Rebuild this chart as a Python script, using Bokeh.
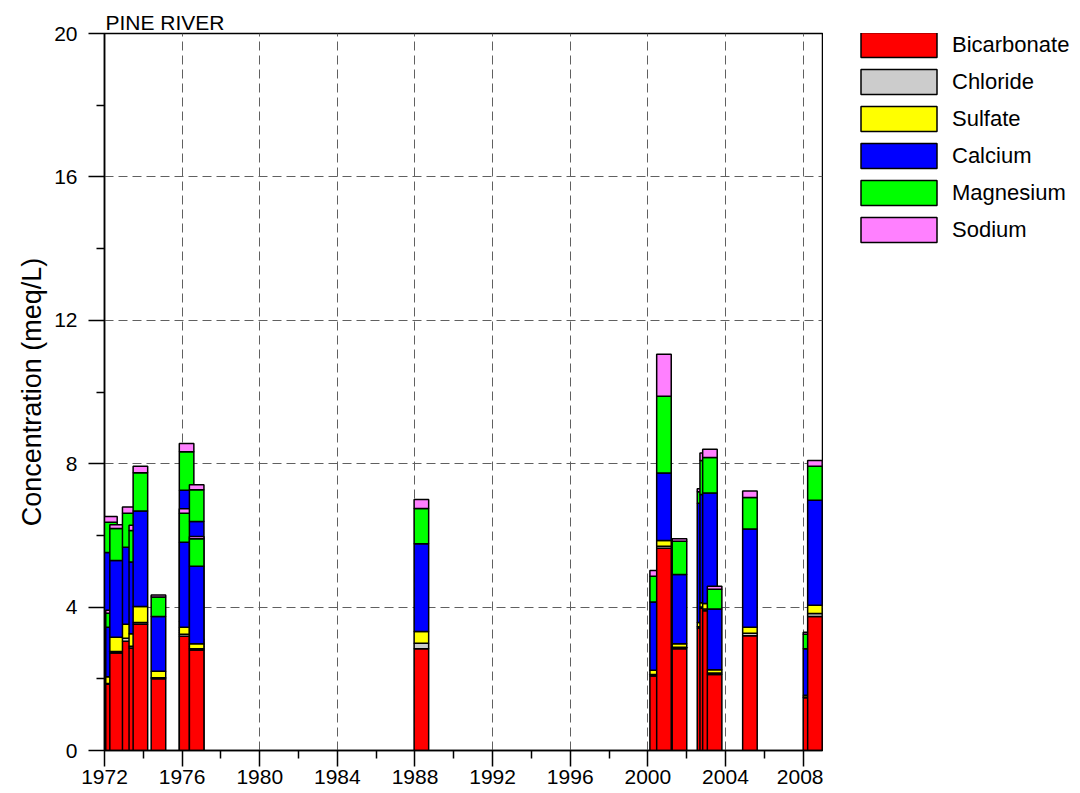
from bokeh.plotting import figure
from bokeh.models import ColumnDataSource, FixedTicker, Range1d, Legend, LegendItem
from bokeh.layouts import row
from bokeh.embed import file_html
from bokeh.resources import INLINE

# ---- data (meq/L), one entry per sample, in drawing order ----
sample_date = [1972.28, 1972.44, 1972.65, 1973.30, 1973.64, 1973.85, 1974.78,
               1976.23, 1976.23, 1976.75, 1976.75, 1988.33,
               2000.48, 2000.83, 2001.63, 2002.92, 2003.06, 2003.20, 2003.44,
               2005.26, 2008.38, 2008.61]
bicarbonate = [2.88, 1.85, 2.72, 3.05, 2.86, 3.52, 2.00, 3.30, 3.19, 2.90, 2.80, 2.84,
               2.08, 5.64, 2.84, 3.42, 3.97, 3.90, 2.12, 3.20, 1.47, 3.74]
chloride = [0.05, 0.02, 0.04, 0.08, 0.05, 0.05, 0.03, 0.05, 0.05, 0.05, 0.04, 0.15,
            0.04, 0.06, 0.04, 0.03, 0.03, 0.05, 0.04, 0.07, 0.02, 0.08]
sulfate = [0.37, 0.19, 0.40, 0.39, 0.35, 0.45, 0.18, 0.25, 0.20, 0.15, 0.14, 0.33,
           0.12, 0.16, 0.10, 0.12, 0.12, 0.15, 0.09, 0.17, 0.05, 0.23]
calcium = [2.22, 1.38, 2.14, 2.15, 2.00, 2.66, 1.53, 3.66, 2.37, 3.29, 2.16, 2.45,
           1.90, 1.88, 1.93, 3.33, 3.02, 3.08, 1.70, 2.74, 1.30, 2.93]
magnesium = [0.85, 0.39, 0.89, 0.95, 0.88, 1.07, 0.54, 1.07, 0.81, 0.88, 0.77, 0.98,
             0.72, 2.14, 0.93, 0.32, 0.95, 0.99, 0.55, 0.88, 0.40, 0.95]
sodium = [0.16, 0.08, 0.11, 0.17, 0.14, 0.18, 0.06, 0.23, 0.12, 0.14, 0.06, 0.25,
          0.16, 1.17, 0.07, 0.08, 0.21, 0.23, 0.08, 0.18, 0.06, 0.16]

components = ["Bicarbonate", "Chloride", "Sulfate", "Calcium", "Magnesium", "Sodium"]
colors = ["#FF0000", "#CCCCCC", "#FFFF00", "#0000FF", "#00FF00", "#FF80FF"]
series = [bicarbonate, chloride, sulfate, calcium, magnesium, sodium]
bar_width = 0.75  # years

x_ticks = list(range(1972, 2009, 4))
x_minor = list(range(1974, 2009, 4))
y_ticks = [0, 4, 8, 12, 16, 20]
y_minor = [2, 6, 10, 14, 18]

# ---- build stacked segments bar by bar (later samples drawn on top) ----
left, right, bottom, top, fill = [], [], [], [], []
for i, d in enumerate(sample_date):
    base = 0.0
    for k, vals in enumerate(series):
        v = vals[i]
        left.append(d - bar_width / 2)
        right.append(d + bar_width / 2)
        bottom.append(base)
        top.append(base + v)
        fill.append(colors[k])
        base += v

src = ColumnDataSource(dict(left=left, right=right, bottom=bottom, top=top, fill=fill))

FONT = "Liberation Sans"

p = figure(width=823, height=793, x_range=Range1d(1972, 2009), y_range=Range1d(0, 20),
           output_backend="svg", toolbar_location=None,
           min_border_left=104, min_border_right=1, min_border_top=33, min_border_bottom=43)
p.background_fill_color = "white"
p.border_fill_color = "white"
p.outline_line_color = "black"
p.outline_line_width = 1.5

p.title.text = "PINE RIVER"
p.title.text_font = FONT
p.title.text_font_size = "21px"
p.title.text_font_style = "normal"
p.title.text_color = "black"
p.title.align = "left"
p.title.standoff = 0
p.title.offset = 1

p.quad(left="left", right="right", bottom="bottom", top="top", source=src,
       fill_color="fill", line_color="black", line_width=1.5)

# axes
for ax in (p.xaxis[0], p.yaxis[0]):
    ax.axis_line_color = "black"
    ax.axis_line_width = 1.5
    ax.major_tick_line_color = "black"
    ax.major_tick_line_width = 1.5
    ax.minor_tick_line_color = "black"
    ax.minor_tick_line_width = 1.5
    ax.major_tick_out = 16
    ax.major_tick_in = 0
    ax.minor_tick_out = 8
    ax.minor_tick_in = 0
    ax.major_label_text_font = FONT
    ax.major_label_text_font_size = "21px"
    ax.major_label_text_color = "black"

p.xaxis.ticker = FixedTicker(ticks=x_ticks, minor_ticks=x_minor)
p.yaxis.ticker = FixedTicker(ticks=y_ticks, minor_ticks=y_minor)
p.xaxis.major_label_standoff = 3
p.yaxis.major_label_standoff = 11
p.yaxis.axis_label = "Concentration (meq/L)"
p.yaxis.axis_label_text_font = FONT
p.yaxis.axis_label_text_font_size = "27px"
p.yaxis.axis_label_text_font_style = "normal"
p.yaxis.axis_label_text_color = "black"
p.yaxis.axis_label_standoff = 4

# grid
p.xgrid.ticker = FixedTicker(ticks=x_ticks[1:])
p.ygrid.ticker = FixedTicker(ticks=y_ticks[1:-1])
for g in (p.xgrid[0], p.ygrid[0]):
    g.grid_line_color = "#606060"
    g.grid_line_width = 1
    g.grid_line_dash = "9 5"

# ---- legend panel (separate figure to the right) ----
lg = figure(width=257, height=793, x_range=Range1d(0, 1), y_range=Range1d(0, 1),
            output_backend="svg", toolbar_location=None,
            min_border_left=0, min_border_right=0, min_border_top=0, min_border_bottom=0)
lg.axis.visible = False
lg.grid.visible = False
lg.outline_line_alpha = 0
lg.background_fill_color = "white"
lg.border_fill_color = "white"

# legend carriers: one swatch per component, kept outside the visible range
items = []
for c, col in zip(components, colors):
    rr = lg.quad(left=[-3], right=[-2], bottom=[-3], top=[-2], fill_color=col,
                 line_color="black", line_width=1.5)
    items.append(LegendItem(label=c, renderers=[rr]))

legend = Legend(items=items, location=(28, 505), orientation="vertical",
                glyph_width=95, glyph_height=31, label_standoff=6, spacing=6,
                padding=0, margin=0, border_line_alpha=0, background_fill_alpha=0,
                label_text_font=FONT, label_text_font_size="22px",
                label_text_color="black")
lg.add_layout(legend)

layout = row(p, lg)
open("out.html", "w").write(file_html(layout, INLINE))
